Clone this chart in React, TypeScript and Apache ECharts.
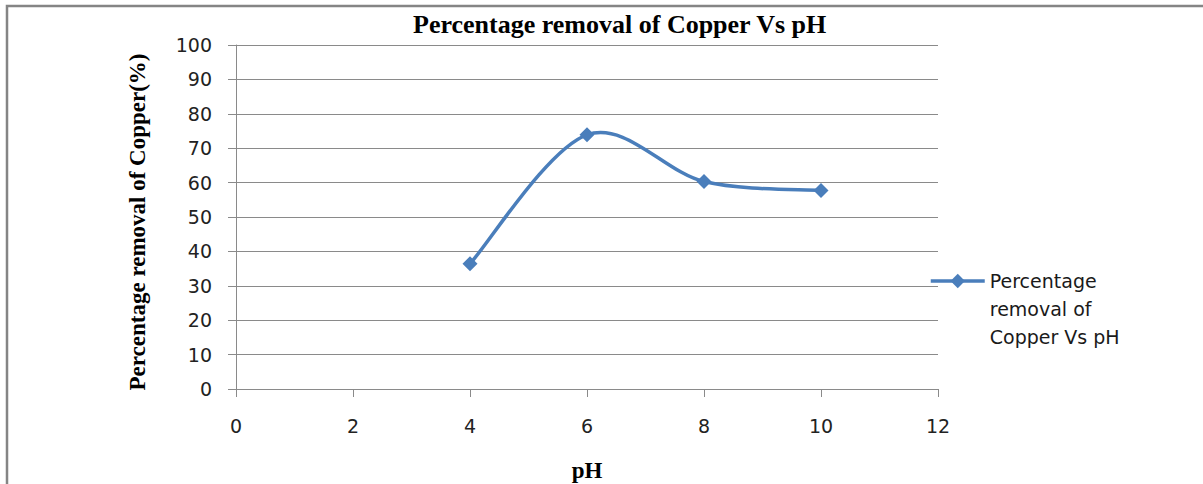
import React, { useEffect, useRef } from "react";
import * as echarts from "echarts";

const titleText = "Percentage removal of Copper Vs pH";
const xAxisName = "pH";
const yAxisName = "Percentage removal of Copper(%)";
const seriesName = "Percentage removal of Copper Vs pH";
const phValues = [4, 6, 8, 10];
const removalValues = [36.4, 73.9, 60.3, 57.7];

export default function App() {
  const ref = useRef<HTMLDivElement>(null);
  useEffect(() => {
    if (!ref.current) return;
    const chart = echarts.init(ref.current, undefined, { renderer: "svg" });
    const gridColor = "#8a8a8a";
    const blue = "#4a7ebb";
    const sans = "DejaVu Sans";
    const serif = "Liberation Serif";
    const points = phValues.map((x, i) => [x, removalValues[i]]);

    // Excel-style smoothed curve (Catmull-Rom -> cubic Bezier), drawn through the axes' scales
    const renderCurve = (params: any, api: any) => {
      if (params.dataIndex !== 0) return { type: "group", children: [] };
      const pts = points.map((p) => api.coord(p));
      const n = pts.length;
      let d = `M ${pts[0][0]} ${pts[0][1]}`;
      for (let i = 0; i < n - 1; i++) {
        const p0 = pts[Math.max(i - 1, 0)];
        const p1 = pts[i];
        const p2 = pts[i + 1];
        const p3 = pts[Math.min(i + 2, n - 1)];
        const c1x = p1[0] + (p2[0] - p0[0]) / 6;
        const c1y = p1[1] + (p2[1] - p0[1]) / 6;
        const c2x = p2[0] - (p3[0] - p1[0]) / 6;
        const c2y = p2[1] - (p3[1] - p1[1]) / 6;
        d += ` C ${c1x} ${c1y} ${c2x} ${c2y} ${p2[0]} ${p2[1]}`;
      }
      return {
        type: "path",
        shape: { pathData: d },
        style: { fill: "none", stroke: blue, lineWidth: 3.5 },
        silent: true,
      };
    };

    chart.setOption({
      animation: false,
      backgroundColor: "#ffffff",
      title: {
        text: titleText,
        left: 413,
        top: 11,
        padding: 0,
        textStyle: { fontFamily: serif, fontWeight: "bold", fontSize: 26, color: "#000" },
      },
      grid: { left: 236, right: 265, top: 45, bottom: 95, containLabel: false, outerBoundsMode: "none" },
      legend: {
        show: true,
        left: 929,
        top: 211,
        padding: 0,
        itemWidth: 54,
        itemHeight: 18,
        itemGap: 0,
        lineStyle: { width: 3.5, color: blue, opacity: 1 },
        formatter: () => "\n\nPercentage\nremoval of\nCopper Vs pH",
        textStyle: {
          fontFamily: sans,
          fontSize: 19,
          color: "#1a1a1a",
          lineHeight: 28,
        },
        data: [{ name: seriesName }],
      },
      xAxis: {
        type: "value",
        min: 0,
        max: 12,
        interval: 2,
        name: xAxisName,
        nameLocation: "middle",
        nameGap: 70,
        nameTextStyle: { fontFamily: serif, fontWeight: "bold", fontSize: 23, color: "#000" },
        axisLine: { show: true, lineStyle: { color: gridColor, width: 1 } },
        axisTick: { show: true, length: 8, lineStyle: { color: gridColor } },
        axisLabel: { margin: 27, fontFamily: sans, fontSize: 19, color: "#222" },
        splitLine: { show: false },
      },
      yAxis: {
        type: "value",
        min: 0,
        max: 100,
        interval: 10,
        name: yAxisName,
        nameLocation: "middle",
        nameGap: 87,
        nameRotate: 90,
        nameTextStyle: {
          fontFamily: serif,
          fontWeight: "bold",
          fontSize: 23,
          color: "#000",
          padding: [0, 10, 0, 0],
        },
        axisLine: { show: true, lineStyle: { color: gridColor, width: 1 } },
        axisTick: { show: true, length: 8, lineStyle: { color: gridColor } },
        axisLabel: { margin: 24, fontFamily: sans, fontSize: 19, color: "#222" },
        splitLine: { show: true, lineStyle: { color: gridColor, width: 1 } },
      },
      graphic: [
        {
          type: "rect",
          shape: { x: 7, y: 6, width: 1400, height: 700 },
          style: { fill: "none", stroke: "#858585", lineWidth: 2.5 },
          silent: true,
        },
      ],
      series: [
        {
          name: "curve",
          type: "custom",
          data: points,
          renderItem: renderCurve,
          z: 2,
        },
        {
          name: seriesName,
          type: "line",
          data: points,
          symbol: "diamond",
          symbolSize: 15,
          lineStyle: { color: blue, width: 3.5, opacity: 0 },
          itemStyle: { color: blue },
          z: 3,
        },
      ],
    });
    return () => chart.dispose();
  }, []);
  return (
    <div
      ref={ref}
      style={{ position: "fixed", left: 0, top: 0, width: 1203, height: 484 }}
    />
  );
}
